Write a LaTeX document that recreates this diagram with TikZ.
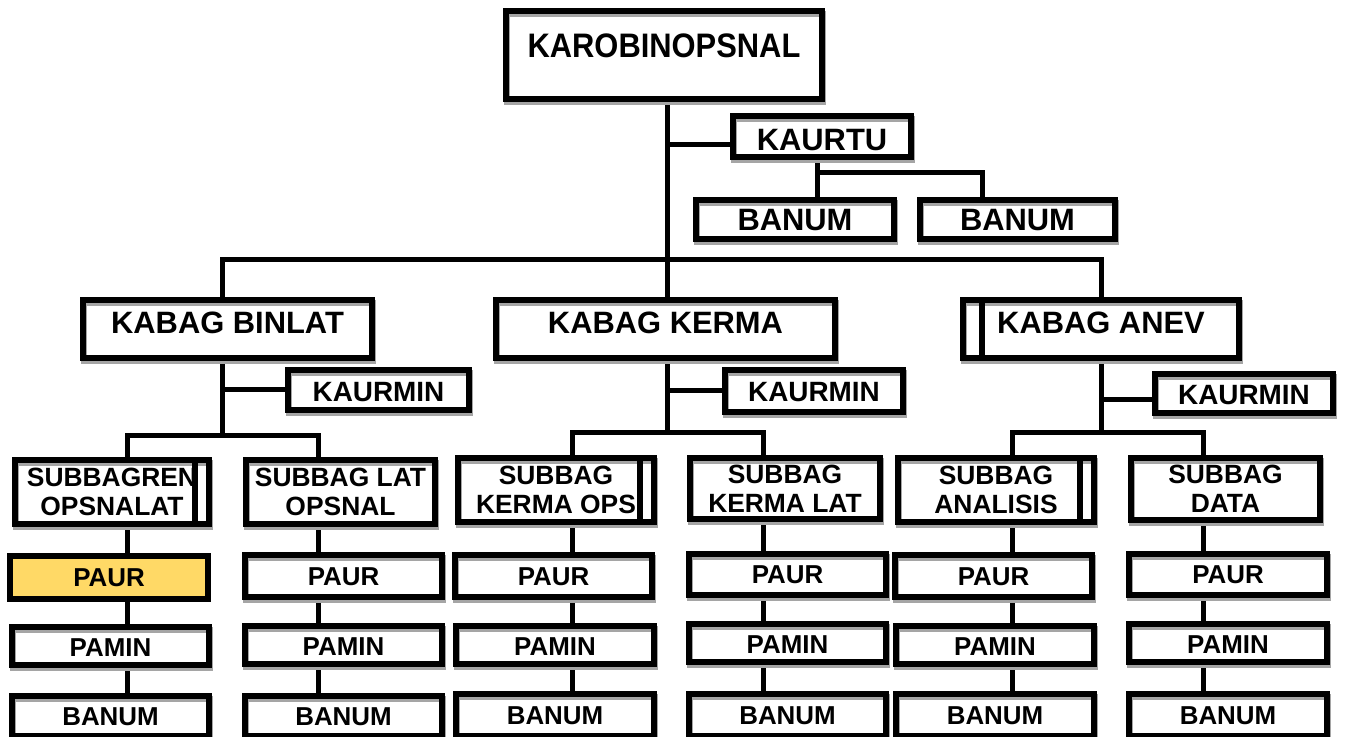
\documentclass[tikz,border=0pt]{standalone}
\usepackage{fontspec}
\setmainfont{Liberation Sans}
\usepackage{graphicx}
\usetikzlibrary{backgrounds}
\definecolor{paury}{HTML}{FFD966}
\definecolor{shadowgray}{RGB}{165,165,165}
\tikzset{
  conn/.style={line width=5bp, draw=black},
  boxbase/.style={rectangle, draw=black, inner sep=0pt, outer sep=0pt,
    preaction={fill=white},
    preaction={draw=shadowgray, line width=#1, transform canvas={xshift=1bp,yshift=-3bp}},
    line width=#1},
  bigbox/.style={boxbase=6.5bp, font=\fontsize{31}{33}\selectfont\bfseries},
  midbox/.style={boxbase=6.5bp, font=\fontsize{28}{30}\selectfont\bfseries},
  subbox/.style={boxbase=6.5bp, font=\fontsize{26.5}{29}\selectfont\bfseries},
  lowbox/.style={boxbase=5.5bp, font=\fontsize{26}{28}\selectfont\bfseries},
  yellowbox/.style={rectangle, draw=black, fill=paury, inner sep=0pt, outer sep=0pt,
    line width=5.5bp, font=\fontsize{26}{28}\selectfont\bfseries},
  innerline/.style={line width=6bp, draw=black}
}
% name, x1, y1, x2, y2, style, text, raise
\newcommand\bx[8]{\node[#6, minimum width={(#4-#2-6)*1bp}, minimum height={(#5-#3-6)*1bp}] (#1) at ({(#2+#4)/2},{(#3+#5)/2}) {\raisebox{#8bp}[0.716em][0pt]{#7}};}
% name, x1, y1, x2, y2, style, text (multi-line)
\newcommand\bxx[7]{\node[#6, align=center, minimum width={(#4-#2-6)*1bp}, minimum height={(#5-#3-6)*1bp}] (#1) at ({(#2+#4)/2},{(#3+#5)/2}) {#7};}
\begin{document}
\begin{tikzpicture}[x=1bp, y=-1bp]
\useasboundingbox (0,0) rectangle (1346,736);

% top level
\bx{karo}{503}{8}{825}{102}{bigbox}{\scalebox{1}[1.1]{KAROBINOPSNAL}}{9}
\bx{kaurtu}{730}{113}{914}{160}{bigbox}{KAURTU}{-2.5}
\bx{banumA}{693}{197}{897}{242}{bigbox}{BANUM}{0}
\bx{banumB}{917}{197}{1118}{242}{bigbox}{BANUM}{0}

% kabag level
\bx{kabagb}{80}{297}{375}{361}{bigbox}{KABAG BINLAT}{6.5}
\bx{kabagk}{493}{297}{838}{361}{bigbox}{KABAG KERMA}{6.5}
\bx{kabaga}{960}{297}{1242}{361}{bigbox}{KABAG ANEV}{6.5}
\draw[innerline] (982,298) -- (982,360);

% kaurmin
\bx{kaurminb}{285}{367}{472}{413}{midbox}{KAURMIN}{-1.7}
\bx{kaurmink}{722}{367}{906}{415}{midbox}{KAURMIN}{-0.7}
\bx{kaurmina}{1152}{371}{1336}{416}{midbox}{KAURMIN}{-1.5}

% subbag level
\bxx{s1}{12}{457}{212}{527}{subbox}{SUBBAGREN\\OPSNALAT}
\draw[innerline] (195,458) -- (195,526);
\bxx{s2}{243}{457}{438}{527}{subbox}{SUBBAG LAT\\OPSNAL}
\bxx{s3}{455}{455}{657}{525}{subbox}{SUBBAG\\KERMA OPS}
\draw[innerline] (639.5,456) -- (639.5,524);
\bxx{s4}{687}{455}{883}{522}{subbox}{SUBBAG\\KERMA LAT}
\bxx{s5}{895}{455}{1097}{525}{subbox}{SUBBAG\\ANALISIS}
\draw[innerline] (1079.5,456) -- (1079.5,524);
\bxx{s6}{1128}{455}{1323}{523}{subbox}{SUBBAG\\DATA}

% PAUR
\bx{paur1}{7}{553}{211}{602}{yellowbox}{PAUR}{0}
\bx{paur2}{242}{552}{445}{600}{lowbox}{PAUR}{0}
\bx{paur3}{452}{552}{655}{600}{lowbox}{PAUR}{0}
\bx{paur4}{686}{551}{889}{598}{lowbox}{PAUR}{0}
\bx{paur5}{892}{552}{1095}{600}{lowbox}{PAUR}{0}
\bx{paur6}{1126}{551}{1330}{598}{lowbox}{PAUR}{0}

% PAMIN
\bx{pamin1}{9}{624}{212}{668}{lowbox}{PAMIN}{-1}
\bx{pamin2}{242}{623}{445}{667}{lowbox}{PAMIN}{-1}
\bx{pamin3}{453}{623}{657}{667}{lowbox}{PAMIN}{-1}
\bx{pamin4}{686}{621}{889}{665}{lowbox}{PAMIN}{-1}
\bx{pamin5}{893}{623}{1097}{667}{lowbox}{PAMIN}{-1}
\bx{pamin6}{1126}{621}{1330}{665}{lowbox}{PAMIN}{-1}

% BANUM bottom
\bx{banum1}{9}{693}{212}{739}{lowbox}{BANUM}{0}
\bx{banum2}{242}{693}{445}{739}{lowbox}{BANUM}{0}
\bx{banum3}{453}{691}{657}{739}{lowbox}{BANUM}{0}
\bx{banum4}{686}{691}{889}{739}{lowbox}{BANUM}{0}
\bx{banum5}{893}{691}{1097}{739}{lowbox}{BANUM}{0}
\bx{banum6}{1126}{691}{1330}{739}{lowbox}{BANUM}{0}

\begin{pgfonlayer}{background}
\fill[white] (0,0) rectangle (1346,736);
% trunk
\coordinate (tx) at (667,0);
\draw[conn] (karo.south -| tx) -- (kabagk.north -| tx);
\coordinate (ju) at (667,144);
\draw[conn] (ju) -- (ju -| kaurtu.west);
\coordinate (ka) at (817.5,172.5);
\coordinate (kb) at (982,172.5);
\draw[conn] (kaurtu.south -| ka) -- (banumA.north -| ka);
\draw[conn] (ka) -- (kb) -- (kb |- banumB.north);
% kabag bar
\coordinate (bl) at (222.5,259);
\coordinate (br) at (1101.5,259);
\draw[conn] (bl |- kabagb.north) -- (bl) -- (br) -- (br |- kabaga.north);
% binlat group
\coordinate (b1) at (222.5,389);
\coordinate (b2) at (222.5,435);
\coordinate (b3) at (127.5,435);
\coordinate (b4) at (318.5,435);
\draw[conn] (kabagb.south -| b2) -- (b2);
\draw[conn] (b1) -- (b1 -| kaurminb.west);
\draw[conn] (b3 |- s1.north) -- (b3) -- (b4) -- (b4 |- s2.north);
% kerma group
\coordinate (k1) at (667,390.5);
\coordinate (k2) at (667,432.5);
\coordinate (k3) at (572.5,432.5);
\coordinate (k4) at (763.5,432.5);
\draw[conn] (kabagk.south -| k2) -- (k2);
\draw[conn] (k1) -- (k1 -| kaurmink.west);
\draw[conn] (k3 |- s3.north) -- (k3) -- (k4) -- (k4 |- s4.north);
% anev group
\coordinate (a1) at (1101,399.7);
\coordinate (a2) at (1101,432.5);
\coordinate (a3) at (1012.5,432.5);
\coordinate (a4) at (1203,432.5);
\draw[conn] (kabaga.south -| a2) -- (a2);
\draw[conn] (a1) -- (a1 -| kaurmina.west);
\draw[conn] (a3 |- s5.north) -- (a3) -- (a4) -- (a4 |- s6.north);
% columns
\coordinate (c1) at (127.5,0);
\coordinate (c2) at (318.5,0);
\coordinate (c3) at (572,0);
\coordinate (c4) at (763,0);
\coordinate (c5) at (1012.5,0);
\coordinate (c6) at (1203,0);
\foreach \i in {1,...,6}{
  \draw[conn] (s\i.south -| c\i) -- (paur\i.north -| c\i);
  \draw[conn] (paur\i.south -| c\i) -- (pamin\i.north -| c\i);
  \draw[conn] (pamin\i.south -| c\i) -- (banum\i.north -| c\i);
}
\end{pgfonlayer}
\end{tikzpicture}
\end{document}
